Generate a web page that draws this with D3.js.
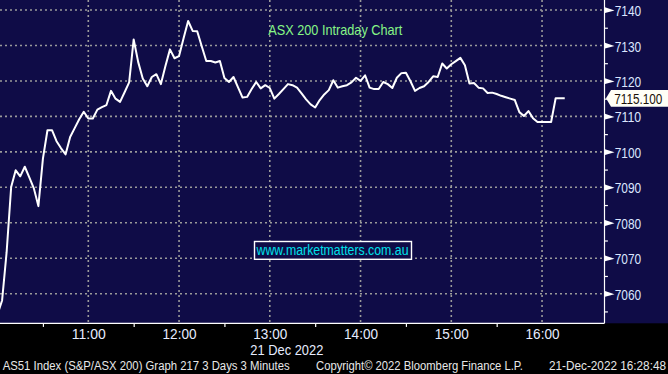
<!DOCTYPE html>
<html><head><meta charset="utf-8">
<script src="https://cdn.jsdelivr.net/npm/d3@7"></script>
<style>html,body{margin:0;padding:0;background:#000;overflow:hidden}svg{display:block}</style>
</head><body><svg id="c" width="668" height="374"></svg>
<script>
// ---------- data ----------
const sessionOpen = "10:00";
const barMinutes = 3;
const closes = [
  7054.2, 7058.1, 7071.7, 7090.1, 7094.8, 7093.1, 7095.8, 7092.8, 7089.7, 7084.7,
  7098.1, 7106.1, 7106.1, 7103.0, 7101.0, 7099.3, 7104.2, 7106.7, 7109.2, 7111.3,
  7109.4, 7109.4, 7111.9, 7112.6, 7113.2, 7117.2, 7115.0, 7114.1, 7116.8, 7119.6,
  7131.7, 7125.3, 7120.7, 7118.5, 7121.1, 7121.9, 7119.1, 7124.2, 7128.9, 7126.4,
  7127.0, 7132.0, 7136.9, 7134.1, 7134.0, 7129.8, 7125.6, 7125.6, 7125.2, 7125.6,
  7120.8, 7119.7, 7121.1, 7118.2, 7115.3, 7115.5, 7117.7, 7119.7, 7117.9, 7118.8,
  7118.0, 7115.0, 7116.3, 7117.7, 7119.1, 7118.8, 7118.1, 7116.5, 7114.8, 7113.4,
  7112.5, 7114.6, 7116.2, 7117.4, 7120.2, 7118.1, 7118.5, 7118.8, 7119.6, 7120.9,
  7120.0, 7121.6, 7118.1, 7117.7, 7117.7, 7119.7, 7119.1, 7118.0, 7120.9, 7122.2,
  7122.3, 7119.9, 7117.2, 7118.0, 7118.5, 7119.7, 7121.3, 7121.1, 7124.9, 7123.5,
  7124.7, 7125.6, 7126.5, 7124.4, 7119.3, 7119.4, 7118.1, 7117.9, 7116.6, 7116.7,
  7116.3, 7115.8, 7115.4, 7115.0, 7114.6, 7111.2, 7110.1, 7111.5, 7109.5, 7108.4,
  7108.4, 7108.4, 7108.4, 7115.1, 7115.1, 7115.1
];
const yTicks = [7060, 7070, 7080, 7090, 7100, 7110, 7120, 7130, 7140];
const yMinorTicks = [7055, 7065, 7075, 7085, 7095, 7105, 7115, 7125, 7135];
const xTickLabels = ["11:00", "12:00", "13:00", "14:00", "15:00", "16:00"];
const xMinorTicks = ["10:30", "11:30", "12:30", "13:30", "14:30", "15:30"];
const xDomain = ["10:00", "17:00"];
const yDomain = [7060, 7140];
const dateLabel = "21 Dec 2022";
const chartTitle = "ASX 200 Intraday Chart";
const watermark = "www.marketmatters.com.au";
const lastValue = 7115.100;
const footerLeft = "AS51 Index (S&P/ASX 200) Graph 217 3 Days 3 Minutes";
const footerMid = "Copyright\u00A9 2022 Bloomberg Finance L.P.";
const footerRight = "21-Dec-2022 16:28:48";

// ---------- layout ----------
const W = 668, H = 374;
const plotR = 604.5, plotB = 323.3;
const navy = "#0f0c47";
const FONT = "'Liberation Sans', Arial, sans-serif";

const parse = d3.timeParse("%H:%M");
const t0 = parse(sessionOpen);
const series = closes.map((v, i) => ({ t: d3.timeMinute.offset(t0, i * barMinutes), v }));

const x = d3.scaleTime().domain(xDomain.map(parse)).range([-2.45, -2.45 + 7 * 90.75]);
const y = d3.scaleLinear().domain(yDomain).range([293.7, 10]);

const svg = d3.select("#c");
svg.append("rect").attr("width", W).attr("height", H).attr("fill", "#000");
svg.append("rect").attr("width", W).attr("height", plotB).attr("fill", navy);

svg.append("defs").append("clipPath").attr("id", "clip")
  .append("rect").attr("x", 0).attr("y", 0).attr("width", plotR).attr("height", plotB);

// grid
const grid = svg.append("g").attr("stroke", "#9a9a9a").attr("stroke-width", 1.6)
  .attr("stroke-dasharray", "2,3");
grid.selectAll("line.h").data(yTicks).join("line").attr("class", "h")
  .attr("x1", 0).attr("x2", plotR - 2).attr("y1", d => y(d)).attr("y2", d => y(d));
grid.selectAll("line.v").data(xTickLabels).join("line").attr("class", "v")
  .attr("x1", d => x(parse(d))).attr("x2", d => x(parse(d))).attr("y1", 0).attr("y2", plotB);

// title
svg.append("text").attr("x", 268.3).attr("y", 34.5).text(chartTitle)
  .attr("font-family", FONT).attr("font-size", 14.5).attr("fill", "#86f586")
  .attr("textLength", 134).attr("lengthAdjust", "spacingAndGlyphs");

// watermark
svg.append("rect").attr("x", 254.5).attr("y", 241.5).attr("width", 157).attr("height", 17.8)
  .attr("fill", navy).attr("stroke", "#ffffff").attr("stroke-width", 1.4);
svg.append("text").attr("x", 256.5).attr("y", 255.3).text(watermark)
  .attr("font-family", FONT).attr("font-size", 14).attr("fill", "#00e0ea")
  .attr("textLength", 152).attr("lengthAdjust", "spacingAndGlyphs");

// line
svg.append("path").datum(series).attr("clip-path", "url(#clip)")
  .attr("fill", "none").attr("stroke", "#ffffff").attr("stroke-width", 2)
  .attr("stroke-linejoin", "round")
  .attr("d", d3.line().x(d => x(d.t)).y(d => y(d.v)));

// axes lines
svg.append("line").attr("x1", 0).attr("x2", plotR).attr("y1", plotB).attr("y2", plotB)
  .attr("stroke", "#fff").attr("stroke-width", 1.2);
svg.append("line").attr("x1", plotR).attr("x2", plotR).attr("y1", 0).attr("y2", plotB)
  .attr("stroke", "#fff").attr("stroke-width", 1.2);

// x axis labels via d3 axis
const xAxis = d3.axisBottom(x).tickValues(xTickLabels.map(parse))
  .tickFormat(d3.timeFormat("%H:%M")).tickSize(0).tickPadding(0);
const gx = svg.append("g").attr("transform", `translate(0,${plotB})`).call(xAxis);
gx.select(".domain").remove();
gx.selectAll("text").attr("y", 16).attr("dy", null)
  .attr("font-family", FONT).attr("font-size", 14).attr("fill", "#e6ecff")
  .attr("textLength", 34).attr("lengthAdjust", "spacingAndGlyphs");

const xMinor = d3.axisBottom(x).tickValues(xMinorTicks.map(parse)).tickSize(3.6).tickFormat("");
const gxm = svg.append("g").attr("transform", `translate(0,${plotB})`).call(xMinor);
gxm.select(".domain").remove();
gxm.selectAll("line").attr("stroke", "#fff").attr("stroke-width", 1.2);

svg.append("text").attr("x", x(parse("13:00")) + 17).attr("y", 354.5).text(dateLabel)
  .attr("text-anchor", "middle").attr("font-family", FONT).attr("font-size", 14)
  .attr("fill", "#e6ecff").attr("textLength", 73).attr("lengthAdjust", "spacingAndGlyphs");

// y axis via d3 axis
const yAxis = d3.axisRight(y).tickValues(yTicks).tickSize(0).tickPadding(10)
  .tickFormat(d3.format("d"));
const gy = svg.append("g").attr("transform", `translate(${plotR},0)`).call(yAxis);
gy.select(".domain").remove();
gy.selectAll("text").attr("dy", null).attr("y", 5.6).attr("x", 10.2)
  .attr("font-family", FONT).attr("font-size", 15).attr("fill", "#dbe6ff")
  .attr("text-anchor", "start")
  .attr("textLength", 26.5).attr("lengthAdjust", "spacingAndGlyphs");
gy.selectAll(".tick").append("path").attr("d", "M0.5,-3.2L10,0L0.5,2.6Z").attr("fill", "#fff");

const yMinor = d3.axisRight(y).tickValues(yMinorTicks).tickSize(3.4).tickFormat("");
const gym = svg.append("g").attr("transform", `translate(${plotR},0)`).call(yMinor);
gym.select(".domain").remove();
gym.selectAll("line").attr("stroke", "#fff").attr("stroke-width", 1.2);

// last value label
const ly = y(lastValue);
const lab = svg.append("g").attr("transform", `translate(${plotR + 1.5},${ly})`);
lab.append("path").attr("d", `M0,0L5,-8.4L${W - plotR - 1.5},-8.4L${W - plotR - 1.5},8.4L5,8.4Z`)
  .attr("fill", "#fffff6");
lab.append("text").attr("transform", "translate(8.3,5.2) scale(0.81,1)")
  .text(d3.format(".3f")(lastValue))
  .attr("font-family", FONT).attr("font-size", 14.5).attr("fill", "#1a1208");

// footer
const foot = [[footerLeft, 2.7, 287], [footerMid, 316, 207], [footerRight, 549, 117]];
svg.selectAll("text.foot").data(foot).join("text").attr("class", "foot")
  .attr("x", d => d[1]).attr("y", 370).text(d => d[0])
  .attr("font-family", FONT).attr("font-size", 12).attr("fill", "#e8e8e8")
  .attr("textLength", d => d[2]).attr("lengthAdjust", "spacingAndGlyphs");
</script></body></html>
